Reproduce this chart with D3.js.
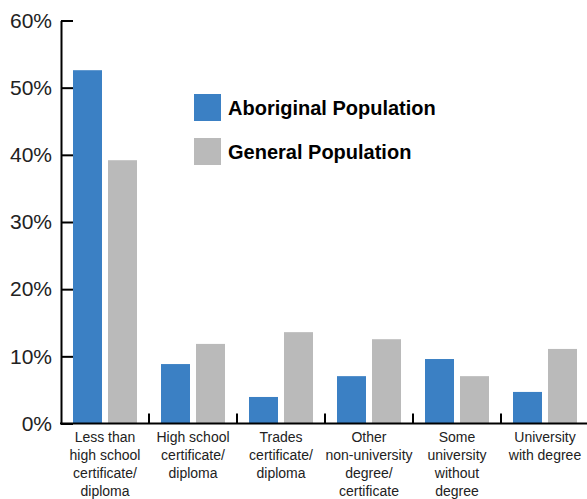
<!DOCTYPE html>
<html>
<head>
<meta charset="utf-8">
<script src="https://cdn.jsdelivr.net/npm/d3@7"></script>
<style>
  html, body { margin: 0; padding: 0; background: #fff; }
  svg { display: block; }
  text { font-family: "Liberation Sans", Arial, sans-serif; }
</style>
</head>
<body>
<svg id="chart" width="587" height="499"></svg>
<script>
// Education attainment categories (each label split into lines)
const categories = [
  "Less than|high school|certificate/|diploma",
  "High school|certificate/|diploma",
  "Trades|certificate/|diploma",
  "Other|non-university|degree/|certificate",
  "Some|university|without|degree",
  "University|with degree"
];
const seriesNames = ["Aboriginal Population", "General Population"];
const aboriginal = [52.6, 8.85, 3.95, 7.05, 9.6, 4.7];
const general    = [39.2, 11.85, 13.6, 12.55, 7.05, 11.1];
const yTicks = [0, 10, 20, 30, 40, 50, 60];
const colors = ["#3b80c4", "#bababa"];

const svg = d3.select("#chart");
const x0 = 61, x1End = 589, yBase = 423.5, yTop = 20.5;

const x = d3.scaleBand().domain(categories).range([x0, x1End]).paddingInner(0).paddingOuter(0);
const xs = d3.scaleBand().domain(seriesNames).range([0, x.bandwidth()])
  .paddingInner(6 / 35).paddingOuter(12 / 35);
const y = d3.scaleLinear().domain([0, 60]).range([yBase, yTop]);
const color = d3.scaleOrdinal().domain(seriesNames).range(colors);

// Bars
const rows = categories.map((c, i) => ({ cat: c, values: [aboriginal[i], general[i]] }));
const groups = svg.append("g").selectAll("g").data(rows).join("g")
  .attr("transform", d => `translate(${x(d.cat)},0)`);
groups.selectAll("rect")
  .data(d => d.values.map((v, j) => ({ key: seriesNames[j], v })))
  .join("rect")
  .attr("x", d => xs(d.key))
  .attr("width", xs.bandwidth())
  .attr("y", d => y(d.v))
  .attr("height", d => y(0) - y(d.v))
  .attr("fill", d => color(d.key));

// Y axis with inward ticks
const yAxis = d3.axisLeft(y).tickValues(yTicks).tickFormat(d => d + "%")
  .tickSizeInner(-12).tickSizeOuter(0).tickPadding(9);
const gy = svg.append("g").attr("transform", `translate(${x0},0)`).call(yAxis);
gy.select(".domain").attr("stroke", "#000").attr("stroke-width", 2);
gy.selectAll(".tick line").attr("stroke", "#000").attr("stroke-width", 2);
gy.selectAll(".tick text").attr("font-size", 21).attr("fill", "#222")
  .attr("font-family", "'Liberation Sans', Arial, sans-serif");

// X axis baseline with upward ticks between categories
const gx = svg.append("g");
gx.append("line").attr("x1", x0 - 1).attr("x2", 587).attr("y1", yBase).attr("y2", yBase)
  .attr("stroke", "#000").attr("stroke-width", 2);
gx.selectAll("line.sep").data(categories.slice(1)).join("line")
  .attr("class", "sep")
  .attr("x1", d => x(d)).attr("x2", d => x(d))
  .attr("y1", yBase).attr("y2", yBase - 10)
  .attr("stroke", "#000").attr("stroke-width", 2);

// Category labels
const labels = gx.selectAll("text.cat").data(categories).join("text")
  .attr("class", "cat")
  .attr("text-anchor", "middle")
  .attr("font-size", 14)
  .attr("fill", "#222")
  .attr("x", d => x(d) + x.bandwidth() / 2);
labels.selectAll("tspan").data(d => d.split("|")).join("tspan")
  .attr("x", function () { return d3.select(this.parentNode).attr("x"); })
  .attr("y", (d, i) => 441.5 + i * 18.2)
  .text(d => d);

// Legend
const legend = svg.append("g").attr("transform", "translate(194,94)");
const li = legend.selectAll("g").data(seriesNames).join("g")
  .attr("transform", (d, i) => `translate(0,${i * 44})`);
li.append("rect").attr("width", 27).attr("height", 27).attr("fill", d => color(d));
li.append("text").attr("x", 34).attr("y", 20.5)
  .attr("font-size", 20).attr("font-weight", "bold").attr("fill", "#000")
  .text(d => d);
</script>
</body>
</html>
